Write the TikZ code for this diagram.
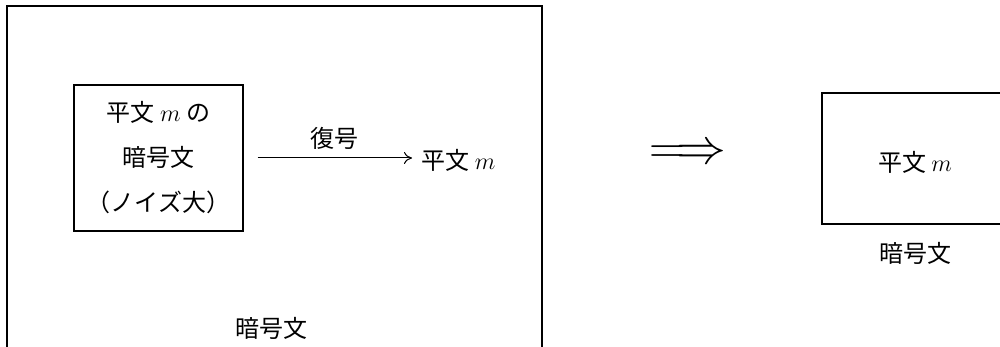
\documentclass[tikz,border=0pt]{standalone}
\usepackage{fontspec}
\setmainfont{Noto Sans CJK JP}
\usetikzlibrary{arrows.meta}
\begin{document}
\begin{tikzpicture}[x=0.5pt,y=-0.5pt,line width=0.6pt,
  txt/.style={inner sep=0pt,font=\fontsize{12}{22.5}\selectfont},
  frame/.style={draw,inner sep=0pt,align=center,font=\fontsize{12}{22.5}\selectfont}]
\useasboundingbox (0,0) rectangle (1000,347);
\clip (0,0) rectangle (1000,347);
% outer ciphertext frame
\node[frame,minimum width=267.5pt,minimum height=187pt] (outer) at (274.5,193) {};
\node[txt] (outerlbl) at (271,328) {暗号文};
% inner box
\node[frame,minimum width=84.5pt,minimum height=73pt] (cipher) at (158.5,158)
  {平文 $m$ の\\暗号文\\（ノイズ大）};
% decryption result
\node[txt,anchor=west] (plain) at (421,160) {平文 $m$};
\node[txt] (dec) at (334.5,138) {復号};
\draw[-{To[length=4pt,width=6pt]},line width=0.5pt,shorten <=7pt,shorten >=4.5pt]
  (cipher.east |- 0,158) -- (plain.west |- 0,158);
% implication
\node[inner sep=0pt] (imp) at (688,154) {\fontsize{24.88}{30}\selectfont$\Longrightarrow$};
% right box
\node[frame,minimum width=94pt,minimum height=65.5pt] (rbox) at (916,158.5) {};
\node[txt] (rplain) at (915,162) {平文 $m$};
\node[txt] (rlbl) at (915,253) {暗号文};
\end{tikzpicture}
\end{document}
